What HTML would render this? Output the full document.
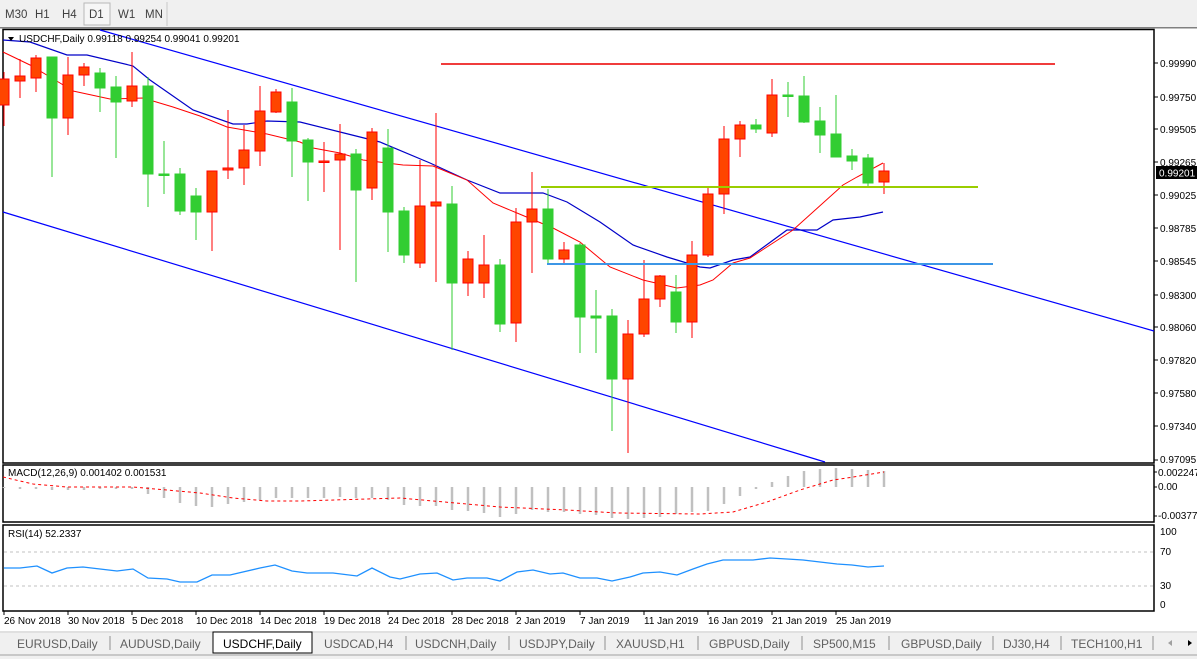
<!DOCTYPE html>
<html><head><meta charset="utf-8"><style>
html,body{margin:0;padding:0;background:#fff;width:1197px;height:659px;overflow:hidden;font-family:"Liberation Sans",sans-serif}
svg text{font-family:"Liberation Sans",sans-serif}
</style></head><body>
<svg id="s" width="1197" height="659" xmlns="http://www.w3.org/2000/svg" style="position:absolute;left:0;top:0">
<rect x="0" y="0" width="1197" height="27" fill="#f0f0f0"/>
<rect x="84" y="3" width="26" height="22" fill="#f6f6f6" stroke="#b8b8b8"/>
<line x1="167" y1="2" x2="167" y2="26" stroke="#c8c8c8"/>
<g font-size="11.5" fill="#404040">
<text x="5" y="18">M30</text><text x="35" y="18">H1</text><text x="62" y="18">H4</text><text x="89" y="18">D1</text><text x="118" y="18">W1</text><text x="145" y="18">MN</text>
</g>
<rect x="0" y="27" width="1197" height="1.5" fill="#808080"/>
<rect x="3" y="29.5" width="1151" height="433.5" fill="none" stroke="#000" stroke-width="1.5"/>
<rect x="3" y="465" width="1151" height="57" fill="none" stroke="#000" stroke-width="1.5"/>
<rect x="3" y="525" width="1151" height="86" fill="none" stroke="#000" stroke-width="1.5"/>
<g id="g"></g>
<polygon points="8,37 14,37 11,41" fill="#000"/>
<text x="19" y="42" font-size="10" fill="#000">USDCHF,Daily  0.99118 0.99254 0.99041 0.99201</text>
<text x="8" y="476" font-size="10" fill="#000">MACD(12,26,9) 0.001402 0.001531</text>
<text x="8" y="537" font-size="10" fill="#000">RSI(14) 52.2337</text>
<g font-size="10" fill="#000">
<text x="1160" y="67">0.99990</text><text x="1160" y="101">0.99750</text><text x="1160" y="133">0.99505</text><text x="1160" y="166">0.99265</text>
<text x="1160" y="199">0.99025</text><text x="1160" y="232">0.98785</text><text x="1160" y="265">0.98545</text><text x="1160" y="299">0.98300</text>
<text x="1160" y="331">0.98060</text><text x="1160" y="364">0.97820</text><text x="1160" y="397">0.97580</text><text x="1160" y="430">0.97340</text><text x="1160" y="463">0.97095</text>
<text x="1158" y="476">0.002247</text><text x="1158" y="490">0.00</text><text x="1158" y="519">-0.003776</text>
<text x="1160" y="555">70</text><text x="1160" y="589">30</text><text x="1160" y="535">100</text><text x="1160" y="608">0</text>
</g>
<rect x="1156" y="166" width="41" height="13" fill="#000"/>
<text x="1159" y="176.5" font-size="10" fill="#fff">0.99201</text>
<g font-size="10" fill="#000">
<text x="4" y="624">26 Nov 2018</text><text x="68" y="624">30 Nov 2018</text><text x="132" y="624">5 Dec 2018</text><text x="196" y="624">10 Dec 2018</text>
<text x="260" y="624">14 Dec 2018</text><text x="324" y="624">19 Dec 2018</text><text x="388" y="624">24 Dec 2018</text><text x="452" y="624">28 Dec 2018</text>
<text x="516" y="624">2 Jan 2019</text><text x="580" y="624">7 Jan 2019</text><text x="644" y="624">11 Jan 2019</text><text x="708" y="624">16 Jan 2019</text>
<text x="772" y="624">21 Jan 2019</text><text x="836" y="624">25 Jan 2019</text>
</g>
<rect x="0" y="631" width="1197" height="28" fill="#f0f0f0"/>
<line x1="0" y1="632" x2="1197" y2="632" stroke="#d0d0d0"/>
<line x1="0" y1="655" x2="1197" y2="655" stroke="#a0a0a0"/>
<rect x="213" y="632" width="99" height="21" fill="#fff" stroke="#000"/>
<g font-size="12" fill="#606060">
<text x="17" y="648">EURUSD,Daily</text><text x="120" y="648">AUDUSD,Daily</text><text x="223" y="648" fill="#000">USDCHF,Daily</text>
<text x="324" y="648">USDCAD,H4</text><text x="415" y="648">USDCNH,Daily</text><text x="519" y="648">USDJPY,Daily</text>
<text x="616" y="648">XAUUSD,H1</text><text x="709" y="648">GBPUSD,Daily</text><text x="813" y="648">SP500,M15</text>
<text x="901" y="648">GBPUSD,Daily</text><text x="1003" y="648">DJ30,H4</text><text x="1071" y="648">TECH100,H1</text>
</g>
<g stroke="#909090"><line x1="110" y1="636" x2="110" y2="650"/><line x1="406" y1="636" x2="406" y2="650"/><line x1="509" y1="636" x2="509" y2="650"/><line x1="605" y1="636" x2="605" y2="650"/><line x1="698" y1="636" x2="698" y2="650"/><line x1="802" y1="636" x2="802" y2="650"/><line x1="889" y1="636" x2="889" y2="650"/><line x1="993" y1="636" x2="993" y2="650"/><line x1="1061" y1="636" x2="1061" y2="650"/><line x1="1153" y1="636" x2="1153" y2="650"/></g>
<polygon points="1168,643 1172,640 1172,646" fill="#a0a0a0"/><polygon points="1192,643 1188,640 1188,646" fill="#000"/>
</svg>
<script>
var g=document.getElementById('g'),h='';
function L(a,c,w,ex){h+='<polyline fill="none" stroke="'+c+'" stroke-width="'+w+'" '+(ex||'')+' points="'+a.map(function(p){return p.join(',')}).join(' ')+'"/>';}
[63,97,129,162,195,228,261,295,327,360,393,426,460].forEach(function(y){h+='<line x1="1154" y1="'+y+'" x2="1158" y2="'+y+'" stroke="#000"/>';});
[472,487,516].forEach(function(y){h+='<line x1="1154" y1="'+y+'" x2="1157" y2="'+y+'" stroke="#000"/>';});
for(var t=4;t<=836;t+=64)h+='<line x1="'+t+'" y1="611" x2="'+t+'" y2="615" stroke="#000"/>';
L([[100,30],[1154,331]],'#0000ff',1.2);
L([[3,212],[825,462]],'#0000ff',1.2);
L([[3,40],[30,42],[67,55],[87,55],[133,66],[150,80],[193,110],[233,124],[247,124],[267,121],[300,122],[340,132],[380,142],[430,163],[467,180],[500,193],[543,193],[567,202],[600,222],[633,245],[667,257],[700,267],[710,268],[733,260],[750,257],[787,230],[817,230],[833,220],[860,217],[883,212]],'#0000c8',1.2);
L([[3,52],[30,65],[60,83],[73,91],[110,99],[143,98],[173,107],[200,116],[227,127],[267,134],[300,142],[313,148],[340,153],[363,160],[403,165],[433,166],[467,180],[493,203],[517,213],[553,228],[580,242],[610,267],[643,280],[677,288],[700,285],[713,280],[733,263],[750,258],[793,230],[843,185],[857,177],[883,163]],'#ff0000',1);
var C=[[79,105,72,126,1],[76,81,59,98,1],[58,78,55,92,1],[57,118,57,177,0],[75,118,57,135,1],[67,75,63,86,1],[73,88,68,112,0],[87,102,76,158,0],[86,101,52,107,1],[86,174,77,207,0],
[174,175,141,194,0],[174,211,168,215,0],[196,212,188,240,0],[171,212,171,251,1],[168,170,110,179,1],[150,168,125,185,1],[111,151,86,166,1],[92,112,89,113,1],[102,141,88,177,0],[140,162,138,201,0],
[161,162,142,192,1],[154,160,124,250,1],[154,190,149,282,0],[132,188,128,200,1],[148,212,129,252,0],[211,255,207,263,0],[206,263,160,268,1],[202,206,113,282,1],[204,283,186,350,0],[259,283,251,296,1],
[265,283,235,298,1],[265,324,259,332,0],[222,323,208,342,1],[209,222,172,273,1],[209,259,189,263,0],[250,259,242,263,1],[245,317,243,353,0],[316,318,290,353,0],[316,379,309,431,0],[334,379,320,453,1],
[299,334,260,337,1],[276,299,275,307,1],[292,322,275,333,0],[255,322,241,338,1],[194,255,187,257,1],[139,194,126,214,1],[125,139,121,157,1],[125,129,119,133,0],[95,133,79,137,1],[95,96,82,117,0],
[96,122,76,123,0],[121,135,107,153,0],[134,157,95,157,0],[156,161,149,170,0],[158,183,154,186,0],[171,182,163,194,1]];
C.forEach(function(c,i){var x=4+16*i,r=c[4],col=r?'#ff0000':'#32cd32',f=r?'#ff4500':'#32cd32';
 h+='<line x1="'+x+'" y1="'+c[2]+'" x2="'+x+'" y2="'+c[3]+'" stroke="'+col+'" stroke-width="1"/>';
 var hh=Math.max(c[1]-c[0],1.5);
 h+='<rect x="'+(x-5)+'" y="'+c[0]+'" width="10" height="'+hh+'" fill="'+f+'" stroke="'+col+'" stroke-width="1"/>';});
h+='<line x1="441" y1="64" x2="1055" y2="64" stroke="#f03c3c" stroke-width="2"/>';
h+='<line x1="541" y1="187" x2="978" y2="187" stroke="#9acd00" stroke-width="2"/>';
h+='<line x1="547" y1="264" x2="993" y2="264" stroke="#3c96e6" stroke-width="2"/>';
var M=[488,489,489,490,490,490,489,489,489,494,498,503,506,507,504,502,500,498,498,498,498,497,498,498,500,505,506,506,510,511,513,517,514,510,512,512,514,515,518,519,518,517,514,512,511,504,496,489,482,476,471,469,468,469,470,471];
M.forEach(function(v,i){var x=4+16*i;h+='<line x1="'+x+'" y1="487" x2="'+x+'" y2="'+v+'" stroke="#c0c0c0" stroke-width="2.5"/>';});
L([[3,477],[20,481],[33,484],[67,487],[133,487],[200,493],[233,498],[267,501],[300,501],[367,499],[400,498],[500,507],[567,510],[617,513],[700,514],[733,512],[767,502],[800,490],[833,480],[847,478],[884,472]],'#ff0000',1,'stroke-dasharray="3,3"');
h+='<line x1="4" y1="552" x2="1153" y2="552" stroke="#c0c0c0" stroke-dasharray="3,3"/>';
h+='<line x1="4" y1="586" x2="1153" y2="586" stroke="#c0c0c0" stroke-dasharray="3,3"/>';
L([[4,568],[20,568],[37,566],[52,573],[67,568],[83,567],[100,569],[117,571],[133,569],[148,578],[167,579],[180,582],[197,582],[212,575],[230,575],[260,568],[275,565],[292,571],[307,573],[333,573],[357,576],[372,568],[390,577],[400,579],[420,574],[437,573],[453,580],[467,578],[487,578],[500,581],[517,572],[533,570],[550,574],[563,573],[580,578],[597,578],[612,581],[630,577],[643,573],[660,572],[677,575],[693,569],[707,564],[723,560],[737,560],[753,560],[770,558],[787,559],[803,560],[820,562],[837,564],[852,565],[868,567],[884,566]],'#1e90ff',1.3);
g.innerHTML=h;
</script>
</body></html>
